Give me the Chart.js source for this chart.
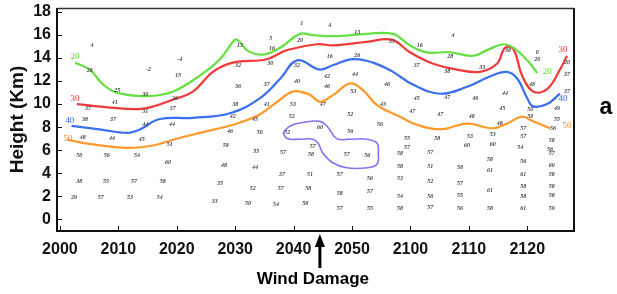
<!DOCTYPE html>
<html>
<head>
<meta charset="utf-8">
<script src="https://cdn.jsdelivr.net/npm/chart.js@4"></script>
<style>
  html, body { margin: 0; padding: 0; background: #fff; }
  #wrap { width: 617px; height: 294px; }
</style>
</head>
<body>
<div id="wrap"><canvas id="radarChart" width="617" height="294"></canvas></div>
<script>
// Time axis: minutes after 20:00, labels are clock times
const xTickValues = [0, 10, 20, 30, 40, 50, 60, 70, 80];
const xTickLabels = ['2000', '2010', '2020', '2030', '2040', '2050', '2100', '2110', '2120'];
const yTickValues = [0, 2, 4, 6, 8, 10, 12, 14, 16, 18];

// Contours [minute, height km]
const contour20 = [[2.6,13.6],[5.1,13.0],[7.4,11.7],[9.7,11.0],[14.9,10.7],[19.4,11.1],[24,12.5],[27.4,13.9],[30,15.6],[30.8,15.4],[32.2,14.6],[34.8,14.3],[37.7,14.9],[41.1,16.1],[43.3,16.0],[46.8,15.9],[52.5,16.1],[57,16.1],[59.9,15.1],[62.8,14.5],[66.8,14.5],[70.7,14.2],[73.6,14.8],[75.9,15.2],[77.6,14.9],[80,13.8],[81.7,12.7]];
const contour30 = [[2.9,10.0],[8.6,9.7],[14.2,9.6],[19.4,10.4],[22.8,11.1],[26.2,12.8],[29.6,13.6],[35.4,13.9],[38.9,14.7],[44,15.2],[46.8,15.1],[52.5,15.4],[56.8,15.6],[59.9,14.5],[63.9,13.5],[67.9,13.0],[71.9,12.8],[74.8,13.5],[76.2,14.9],[77.6,14.8],[79.1,12.5],[81,11.1],[83.4,11.3],[85.6,13.0],[86.8,14.2]];
const contour40 = [[2,8.1],[6.8,7.8],[11.5,7.5],[13.7,7.8],[17.1,8.7],[22.8,8.8],[29.1,9.2],[34.2,10.5],[37.7,12.2],[40.6,13.8],[44.5,13.0],[46.8,13.4],[50.2,13.9],[53.6,13.6],[57,12.8],[60.4,11.7],[65.1,10.9],[69.7,11.5],[73.6,12.4],[76.5,12.8],[78.3,12.2],[80,10.5],[81,9.8],[83.4,10.0],[85.6,10.9]];
const contour50 = [[1.2,6.9],[5.7,6.5],[11.5,6.2],[15.9,6.4],[19.4,6.9],[24,7.5],[29.6,8.2],[34.2,9.1],[37.2,10.2],[40,11.1],[42.8,10.8],[44.5,10.2],[46.8,10.8],[49.7,11.8],[51.9,11.2],[54.3,9.9],[58.2,8.9],[61.1,8.2],[65.1,7.8],[69.7,8.3],[74.1,7.9],[76.5,8.3],[79.1,8.9],[81,8.5],[83.9,7.9]];
const contour55 = [[38.2,7.5],[39.4,8.1],[41.6,8.4],[44.5,8.5],[45.7,8.1],[47.4,7.0],[49.7,6.95],[52.6,6.95],[54.3,6.6],[54.5,5.75],[54.3,4.8],[52.6,4.46],[49.1,4.46],[46.7,4.9],[45.0,5.75],[44.2,6.6],[43.3,6.95],[41.1,6.95],[38.9,7.0],[38.2,7.5]];

// Contour level labels [minute, km, text]
const levelLabelsLeft = [[2.6,14.1,'20'],[2.6,10.5,'30'],[1.7,8.6,'40'],[1.4,7.0,'50']];
const levelLabelsRight = [[83.4,12.8,'20'],[86.1,14.7,'30'],[86.1,10.5,'40'],[86.8,8.1,'50']];

// Observed values [minute, km, value]
const stationObs = [
  [3.3,5.5,'50'],[8.0,5.5,'56'],[13.2,5.5,'54'],[18.5,4.9,'60'],
  [3.3,3.3,'38'],[7.9,3.3,'55'],[12.7,3.3,'57'],[17.6,3.3,'58'],
  [2.4,1.9,'29'],[7.0,1.9,'57'],[12.0,1.9,'53'],[17.1,1.9,'54'],
  [28.4,6.4,'58'],[28.1,4.7,'48'],[27.4,3.1,'35'],[26.5,1.5,'33'],
  [33.6,5.9,'55'],[33.4,4.5,'44'],[33.0,2.7,'52'],[32.2,1.4,'50'],
  [38.2,5.8,'57'],[38.0,3.9,'37'],[37.8,2.7,'57'],[37.0,1.3,'54'],
  [43.0,5.6,'58'],[42.8,3.9,'51'],[42.5,2.7,'58'],[42.0,1.4,'58'],
  [47.9,3.9,'57'],[47.9,2.2,'58'],[47.9,0.9,'57'],
  [53.1,3.5,'56'],[53.1,2.4,'57'],[53.1,0.9,'55'],
  [58.2,5.7,'58'],[58.2,4.6,'58'],[58.2,3.5,'53'],[58.2,2.0,'54'],[58.2,0.9,'58'],
  [63.4,5.8,'57'],[63.4,4.6,'51'],[63.4,3.3,'52'],[63.4,2.0,'56'],[63.4,1.0,'57'],
  [68.5,4.5,'58'],[68.5,3.1,'57'],[68.5,2.1,'55'],[68.5,0.9,'56'],
  [73.6,5.2,'58'],[73.6,4.2,'61'],[73.6,2.5,'61'],[73.6,0.9,'58'],
  [79.3,5.0,'56'],[79.3,3.9,'61'],[79.3,2.8,'58'],[79.3,2.0,'58'],[79.3,0.9,'61'],
  [84.2,5.7,'57'],[84.2,4.7,'60'],[84.2,3.9,'58'],[84.2,2.8,'58'],[84.2,2.1,'58'],[84.2,0.9,'59'],
  [5.5,15.1,'4'],[5.1,12.9,'26'],[9.8,11.2,'25'],[9.4,10.1,'41'],[4.8,9.6,'37'],[4.3,8.7,'38'],[9.1,8.7,'37'],
  [14.6,10.8,'30'],[15.1,13.0,'-2'],[20.5,13.9,'-4'],[20.2,12.5,'15'],[19.7,10.5,'26'],[19.3,9.6,'37'],
  [14.6,9.4,'31'],[14.6,8.2,'44'],[19.2,8.2,'44'],[3.9,7.1,'48'],[8.9,7.0,'44'],[14.0,6.9,'45'],[18.8,6.5,'51'],
  [30.8,15.1,'13'],[36.1,15.7,'5'],[36.3,14.8,'16'],[30.5,13.4,'32'],[36.0,13.5,'30'],[30.5,11.5,'36'],
  [35.4,11.7,'37'],[30.0,10.0,'38'],[35.4,10.0,'41'],[29.6,8.9,'42'],[33.4,8.7,'45'],[29.1,7.6,'46'],
  [34.2,7.5,'50'],[41.4,17.0,'1'],[41.1,15.5,'20'],[40.6,13.4,'32'],[40.6,12.0,'40'],[39.9,10.0,'53'],
  [39.7,8.9,'52'],[38.9,7.5,'52'],
  [46.2,16.8,'4'],[50.9,16.2,'13'],[67.3,16.0,'4'],[61.6,15.1,'16'],[66.8,14.1,'28'],[81.7,14.5,'0'],
  [81.7,13.9,'20'],[86.8,13.6,'20'],[46.2,14.1,'16'],[50.9,14.2,'26'],[56.8,15.4,'33'],[61.1,13.4,'37'],
  [66.3,12.8,'38'],[72.3,13.2,'33'],[76.7,14.7,'38'],[80.8,11.7,'48'],[86.8,12.6,'37'],[45.7,12.4,'42'],
  [50.5,12.6,'44'],[45.7,11.5,'46'],[50.2,11.1,'53'],[56.0,11.7,'46'],[61.1,10.5,'45'],[66.3,10.6,'47'],
  [71.1,10.5,'49'],[76.2,10.9,'44'],[75.7,9.6,'45'],[80.5,9.5,'50'],[85.1,9.6,'49'],[86.8,11.1,'37'],
  [45.0,10.0,'47'],[49.7,9.1,'52'],[55.3,10.0,'43'],[60.3,9.4,'47'],[65.1,9.1,'47'],[70.5,8.9,'48'],
  [75.3,8.3,'48'],[80.5,8.9,'50'],[85.1,8.7,'55'],[84.4,7.9,'56'],[79.3,7.9,'57'],[44.5,8.0,'60'],
  [49.7,7.6,'56'],[54.8,8.2,'56'],[59.4,7.0,'55'],[64.6,7.0,'58'],[70.2,7.2,'53'],[74.1,7.4,'53'],
  [79.3,7.2,'57'],[84.2,6.8,'58'],[43.3,6.3,'57'],[49.1,5.6,'57'],[52.6,5.5,'56'],[59.4,6.2,'57'],
  [69.7,6.4,'60'],[74.1,6.5,'60'],[78.8,6.2,'54'],[83.9,6.1,'56']
];

const damageTime = 44.5;

function toPoints(arr) {
    return arr.map(p => ({ x: p[0], y: p[1] }));
}

function contourSet(arr, color, width) {
    return {
        data: toPoints(arr),
        borderColor: color,
        borderWidth: width,
        pointRadius: 0,
        tension: 0.4,
        fill: false
    };
}

// frame, inner ticks, numbers and annotations
const overlayPlugin = {
    id: 'overlay',
    afterDatasetsDraw(chart) {
        const ctx = chart.ctx;
        const area = chart.chartArea;
        const xs = chart.scales.x;
        const ys = chart.scales.y;
        ctx.save();

        // station values
        ctx.fillStyle = '#444';
        ctx.font = 'italic bold 6px "Liberation Serif"';
        ctx.textAlign = 'center';
        ctx.textBaseline = 'middle';
        stationObs.forEach(s => {
            ctx.fillText(s[2], xs.getPixelForValue(s[0]), ys.getPixelForValue(s[1]));
        });

        // contour level labels
        const levelColors = ['#55dd33', '#ee3333', '#3366ee', '#ff8833'];
        ctx.font = '9px "Liberation Serif"';
        levelLabelsLeft.concat(levelLabelsRight).forEach((l, i) => {
            ctx.fillStyle = levelColors[i % 4];
            ctx.fillText(l[2], xs.getPixelForValue(l[0]), ys.getPixelForValue(l[1]));
        });

        // frame
        ctx.strokeStyle = '#111';
        ctx.lineWidth = 2;
        ctx.beginPath();
        ctx.moveTo(area.left, area.top);
        ctx.lineTo(area.left, area.bottom);
        ctx.lineTo(area.right, area.bottom);
        ctx.lineTo(area.right, area.top);
        ctx.stroke();
        ctx.lineWidth = 1.5;
        ctx.strokeStyle = '#333';
        ctx.beginPath();
        ctx.moveTo(area.left, area.top + 0.5);
        ctx.lineTo(area.right, area.top + 0.5);
        ctx.stroke();

        // inner ticks
        ctx.strokeStyle = '#111';
        ctx.lineWidth = 1;
        ctx.beginPath();
        xTickValues.forEach(v => {
            const px = Math.round(xs.getPixelForValue(v)) + 0.5;
            ctx.moveTo(px, area.bottom);
            ctx.lineTo(px, area.bottom - 5);
        });
        yTickValues.forEach(v => {
            const py = Math.round(ys.getPixelForValue(v)) + 0.5;
            ctx.moveTo(area.left, py);
            ctx.lineTo(area.left + 5, py);
        });
        ctx.stroke();

        // wind damage arrow
        const ax = xs.getPixelForValue(damageTime);
        ctx.fillStyle = '#000';
        ctx.fillRect(ax - 1.5, area.bottom + 12, 3, 25);
        ctx.beginPath();
        ctx.moveTo(ax, area.bottom + 3);
        ctx.lineTo(ax - 5, area.bottom + 16);
        ctx.lineTo(ax + 5, area.bottom + 16);
        ctx.closePath();
        ctx.fill();

        ctx.font = 'bold 17px "Liberation Sans"';
        ctx.textAlign = 'center';
        ctx.fillText('Wind Damage', ax - 7, area.bottom + 48);

        ctx.font = 'bold 23px "Liberation Sans"';
        ctx.fillText('a', area.right + 32, 108);

        ctx.restore();
    }
};

const ctx = document.getElementById('radarChart').getContext('2d');

new Chart(ctx, {
    type: 'line',
    data: {
        datasets: [
            contourSet(contour20, '#66e040', 2.2),
            contourSet(contour30, '#f03a3a', 2.2),
            contourSet(contour40, '#3a6ff0', 2.2),
            contourSet(contour50, '#ff9a2a', 2.2),
            contourSet(contour55, '#8075f0', 1.6)
        ]
    },
    options: {
        responsive: false,
        animation: false,
        layout: {
            padding: { top: 8, right: 43, left: 0, bottom: 0 }
        },
        plugins: {
            legend: { display: false },
            tooltip: { enabled: false }
        },
        scales: {
            x: {
                type: 'linear',
                min: -0.5,
                max: 88,
                afterBuildTicks: scale => {
                    scale.ticks = xTickValues.map(v => ({ value: v }));
                },
                afterFit: scale => {
                    scale.height = 63;
                    scale.paddingLeft = 0;
                    scale.paddingRight = 0;
                },
                grid: { display: false, drawTicks: false },
                border: { display: false },
                ticks: {
                    autoSkip: false,
                    maxRotation: 0,
                    padding: 9,
                    color: '#111',
                    font: { family: 'Liberation Sans', weight: 'bold', size: 16 },
                    callback: (value, index) => xTickLabels[index]
                }
            },
            y: {
                min: -1.03,
                max: 18.35,
                afterBuildTicks: scale => {
                    scale.ticks = yTickValues.map(v => ({ value: v }));
                },
                afterFit: scale => {
                    scale.width = 57;
                    scale.paddingTop = 0;
                    scale.paddingBottom = 0;
                },
                grid: { display: false, drawTicks: false },
                border: { display: false },
                title: {
                    display: true,
                    text: 'Height (Km)',
                    color: '#111',
                    padding: { top: 6, bottom: 0 },
                    font: { family: 'Liberation Sans', weight: 'bold', size: 19 }
                },
                ticks: {
                    padding: 6,
                    color: '#111',
                    font: { family: 'Liberation Sans', weight: 'bold', size: 16 }
                }
            }
        }
    },
    plugins: [overlayPlugin]
});
</script>
</body>
</html>
